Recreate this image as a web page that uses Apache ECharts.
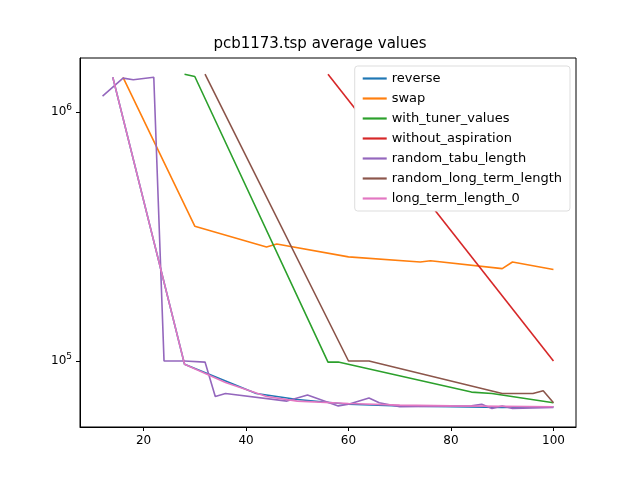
<!DOCTYPE html>
<html><head><meta charset="utf-8">
<script src="https://cdn.jsdelivr.net/npm/echarts@6/dist/echarts.min.js"></script>
<style>body{margin:0}#c{width:640px;height:480px}</style></head>
<body><div id="c"></div>
<script>
var reverse = [[14,1380000],[28,97000],[42,74000],[50,70000],[60,67000],[70,66000],[80,65500],[90,65000],[100,65500]];
var swap = [[16,1380000],[30,348000],[44,287000],[46,295000],[60,262000],[74,250000],[76,253000],[90,235000],[92,250000],[100,233000]];
var withTuner = [[28,1420000],[30,1390000],[56,99000],[58,99000],[84,75000],[88,74000],[100,68000]];
var withoutAspiration = [[56,1420000],[100,100000]];
var randomTabu = [[12,1160000],[16,1370000],[18,1350000],[22,1380000],[24,100000],[28,100000],[32,99000],[34,72000],[36,74000],[48,69000],[52,73000],[58,66000],[60,67000],[64,71000],[66,68000],[70,65500],[84,66000],[86,67000],[88,64500],[90,66000],[92,64500],[100,65000]];
var randomLongTerm = [[32,1420000],[60,100000],[64,100000],[90,74000],[96,74000],[98,76000],[100,68000]];
var longTermZero = [[14,1380000],[28,97000],[36,82000],[44,72000],[50,69000],[60,67500],[70,66500],[80,66000],[100,65500]];
var xTicks = [20, 40, 60, 80, 100];
var yTicks = [100000, 1000000];

var names = ['reverse','swap','with_tuner_values','without_aspiration','random_tabu_length','random_long_term_length','long_term_length_0'];
var datas = [reverse, swap, withTuner, withoutAspiration, randomTabu, randomLongTerm, longTermZero];
var colors = ['#1f77b4','#ff7f0e','#2ca02c','#d62728','#9467bd','#8c564b','#e377c2'];

var chart = echarts.init(document.getElementById('c'));
chart.setOption({
  animation: false,
  color: colors,
  textStyle: {fontFamily: 'DejaVu Sans'},
  title: {text: 'pcb1173.tsp average values', left: 'center', top: 32,
    textStyle: {fontSize: 15, fontWeight: 'normal', color: '#000'}},
  legend: {orient: 'vertical', right: 70, top: 66, itemWidth: 24, itemGap: 7,
    icon: 'path://M0,0L22,0L22,2L0,2Z',
    backgroundColor: '#fff', borderColor: '#ddd', borderWidth: 1, borderRadius: 3, padding: [6, 8],
    textStyle: {fontSize: 13, color: '#000'}, data: names},
  grid: {left: 80, right: 64, top: 58, bottom: 53, show: true, borderColor: '#000', borderWidth: 1},
  xAxis: {type: 'value', min: 7.6, max: 104.4,
    axisLine: {onZero: false, lineStyle: {color: '#000'}},
    axisTick: {show: true, length: 4, lineStyle: {color: '#000'}, customValues: xTicks},
    axisLabel: {color: '#000', fontSize: 12, customValues: xTicks},
    splitLine: {show: false}},
  yAxis: {type: 'log', logBase: 10, min: 54300, max: 1650000,
    axisLine: {show: true, lineStyle: {color: '#000'}},
    axisTick: {show: true, length: 4, lineStyle: {color: '#000'}, customValues: yTicks},
    axisLabel: {color: '#000', fontSize: 12, customValues: yTicks,
      formatter: function (v) { return v >= 999999 ? '10{s|6}' : '10{s|5}'; },
      rich: {s: {fontSize: 9, verticalAlign: 'top', padding: [0, 0, 8, 0]}}},
    splitLine: {show: false}},
  series: names.map(function (n, i) {
    return {name: n, type: 'line', data: datas[i], showSymbol: false,
      lineStyle: {width: 1.6}, z: i};
  })
});
</script></body></html>
